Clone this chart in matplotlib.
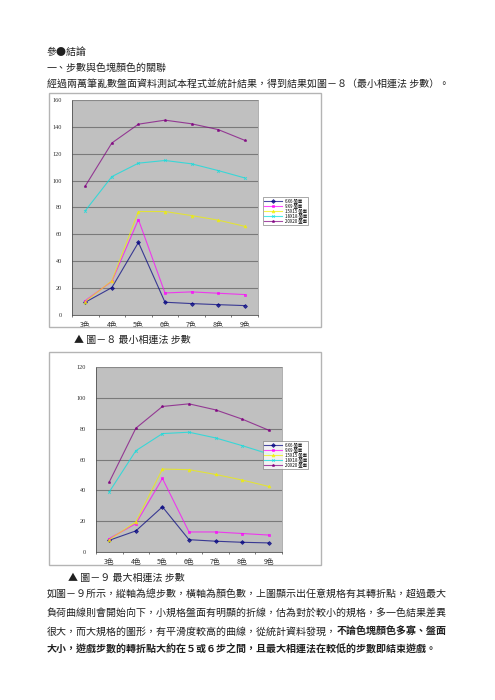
import matplotlib.pyplot as plt
from matplotlib.patches import Rectangle

plt.rcParams['font.family'] = ['Noto Sans CJK TC', 'DejaVu Sans']

# categories and series names
color_labels = ['3色', '4色', '5色', '6色', '7色', '8色', '9色']
series_names = ['6X6 盤面', '9X9 盤面', '15X15 盤面', '18X18 盤面', '20X20 盤面']

# Fig 8: minimum connection method, steps
min_6x6 = [9.5, 20.4, 54.0, 9.5, 8.5, 7.7, 7.0]
min_9x9 = [10.7, 25.0, 71.0, 16.4, 17.2, 16.2, 15.2]
min_15x15 = [10.0, 25.4, 77.0, 77.0, 74.0, 70.6, 66.0]
min_18x18 = [77.6, 103.0, 113.0, 115.0, 112.5, 107.5, 102.0]
min_20x20 = [96.0, 128.0, 142.0, 145.0, 142.3, 138.0, 130.0]

# Fig 9: maximum connection method, steps
max_6x6 = [7.6, 13.7, 29.3, 8.0, 7.0, 6.3, 5.9]
max_9x9 = [8.7, 18.4, 47.7, 13.0, 13.0, 12.0, 11.0]
max_15x15 = [8.0, 19.5, 53.8, 53.4, 50.3, 46.7, 42.5]
max_18x18 = [39.0, 65.7, 76.8, 77.7, 74.0, 69.0, 63.6]
max_20x20 = [45.4, 80.3, 94.4, 96.1, 92.2, 86.2, 79.0]

line_colors = ['#000080', '#ff00ff', '#f0f000', '#00e0e0', '#800080']
markers = ['D', 's', '^', 'x', '*']

W, H = 495, 700
fig = plt.figure(figsize=(W / 100, H / 100), dpi=100)


def fx(x):
    return x / W


def fy(y):
    return 1 - y / H


def draw_chart(box, plot, ymax, data, legend_pos):
    # outer chart frame
    fig.patches.append(Rectangle((fx(box[0]), fy(box[3])), (box[2] - box[0]) / W,
                                 (box[3] - box[1]) / H, transform=fig.transFigure,
                                 fill=False, ec='#b4b4b4', lw=1.0))
    ax = fig.add_axes([fx(plot[0]), fy(plot[3]), (plot[2] - plot[0]) / W,
                       (plot[3] - plot[1]) / H])
    ax.set_facecolor('#c0c0c0')
    xs = range(len(color_labels))
    handles = []
    for vals, c, m, name in zip(data, line_colors, markers, series_names):
        h, = ax.plot(xs, vals, color=c, lw=0.8, marker=m, ms=2.0, mew=0.6,
                     label=name, alpha=0.7)
        handles.append(h)
    ax.set_xlim(-0.5, len(color_labels) - 0.5)
    ax.set_ylim(0, ymax)
    ax.set_xticks(list(xs))
    ax.set_xticklabels(color_labels, fontsize=5, color='#303030')
    ax.set_xticks([i + 0.5 for i in range(-1, len(color_labels))], minor=True)
    ax.tick_params(axis='x', which='major', length=0, pad=4)
    ax.tick_params(axis='x', which='minor', length=1.5, width=0.5, color='#404040')
    ax.set_yticks(range(0, ymax + 1, 20))
    ax.set_yticklabels([str(v) for v in range(0, ymax + 1, 20)], fontsize=4.5,
                       family=['Liberation Serif', 'DejaVu Serif'], color='#303030')
    ax.tick_params(axis='y', length=0, pad=7)
    ax.yaxis.grid(True, color='#7a7a7a', lw=0.8)
    ax.set_axisbelow(True)
    for side in ['top', 'right']:
        ax.spines[side].set_color('#909090')
        ax.spines[side].set_linewidth(0.5)
    for side in ['left', 'bottom']:
        ax.spines[side].set_color('#505050')
        ax.spines[side].set_linewidth(0.6)
    leg = ax.legend(handles=handles, loc='upper left',
                    bbox_to_anchor=(fx(legend_pos[0]), fy(legend_pos[1])),
                    bbox_transform=fig.transFigure, fontsize=3.2, frameon=True,
                    fancybox=False, borderpad=0.3, labelspacing=0.0,
                    handlelength=4, handletextpad=0.6, borderaxespad=0)
    leg.get_frame().set_edgecolor('#808080')
    leg.get_frame().set_linewidth(0.6)
    return ax


draw_chart((49, 93, 321, 327), (72, 100, 258, 315), 160,
           [min_6x6, min_9x9, min_15x15, min_18x18, min_20x20], (263, 197))
draw_chart((49, 352, 321, 565), (96, 367, 282, 552), 120,
           [max_6x6, max_9x9, max_15x15, max_18x18, max_20x20], (263, 441))

txt = dict(fontsize=7.2, color='#202020', va='center', ha='left')
fig.text(fx(47), fy(52), '參●結論', **txt)
fig.text(fx(47), fy(68), '一、步數與色塊顏色的關聯', **txt)
fig.text(fx(47), fy(85), '經過兩萬筆亂數盤面資料測試本程式並統計結果，得到結果如圖－８（最小相連法 步數）。', **txt)
fig.text(fx(74), fy(340), '▲ 圖－８ 最小相連法 步數', **txt)
fig.text(fx(68), fy(578), '▲ 圖－９ 最大相連法 步數', **txt)
fig.text(fx(47), fy(595), '如圖－９所示，縱軸為總步數，橫軸為顏色數，上圖顯示出任意規格有其轉折點，超過最大', **txt)
fig.text(fx(47), fy(613), '負荷曲線則會開始向下，小規格盤面有明顯的折線，估為對於較小的規格，多一色結果差異', **txt)
t3 = fig.text(fx(47), fy(632), '很大，而大規格的圖形，有平滑度較高的曲線，從統計資料發現，', **txt)
fig.canvas.draw()
bb = t3.get_window_extent()
fig.text(bb.x1 / W, fy(632), '不論色塊顏色多寡、盤面', fontweight='bold', **txt)
fig.text(fx(47), fy(650), '大小，遊戲步數的轉折點大約在５或６步之間，且最大相連法在較低的步數即結束遊戲。',
         fontweight='bold', **txt)

fig.savefig('out.png', dpi=100, facecolor='white')
